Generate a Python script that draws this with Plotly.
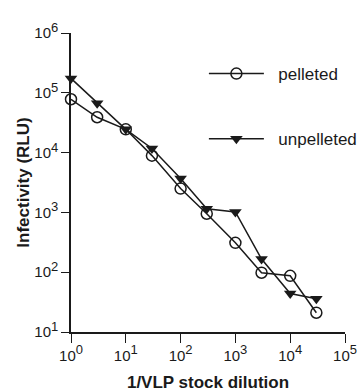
import plotly.graph_objects as go

dilution = [1, 3, 10, 30, 100, 300, 1000, 3000, 10000, 30000]
pelleted = [78000, 39000, 24500, 8900, 2500, 950, 310, 98, 87, 21]
unpelleted = [174000, 67000, 24500, 11700, 3700, 1150, 1020, 166, 44, 36]
series_names = ["pelleted", "unpelleted"]

x_ticks = [1, 10, 100, 1000, 10000, 100000]
x_ticktext = ["10<sup><span style='font-size:13px'>%d</span></sup>" % i for i in range(6)]
y_ticks = [10, 100, 1000, 10000, 100000, 1000000]
y_ticktext = ["10<sup><span style='font-size:13px'>%d</span></sup>" % i for i in range(1, 7)]

FONT = "Liberation Sans, Arial, Helvetica, sans-serif"
INK = "#1a1a1a"
PAD = "\u00a0\u00a0"

fig = go.Figure()
fig.add_trace(go.Scatter(
    x=dilution, y=pelleted, name=PAD + series_names[0], mode="lines+markers",
    line=dict(color=INK, width=1.5),
    marker=dict(symbol="circle-open", size=11, color=INK, line=dict(width=1.5, color=INK)),
    legendgroup="a", cliponaxis=False,
))
fig.add_trace(go.Scatter(
    x=dilution, y=unpelleted, name=PAD + series_names[1], mode="lines+markers",
    line=dict(color=INK, width=1.5),
    marker=dict(symbol="triangle-down", size=11, color=INK),
    legendgroup="b", cliponaxis=False,
))

fig.update_layout(
    width=363, height=392,
    margin=dict(l=71, r=18, t=33, b=60, autoexpand=False),
    plot_bgcolor="white", paper_bgcolor="white",
    font=dict(family=FONT, color=INK, size=15),
    showlegend=True,
    legend=dict(
        x=0.485, y=0.923, xanchor="left", yanchor="top",
        traceorder="grouped", tracegroupgap=40, itemwidth=55,
        font=dict(size=17, color=INK), bgcolor="rgba(0,0,0,0)",
    ),
    xaxis=dict(
        type="log", range=[0, 5], tickvals=x_ticks, ticktext=x_ticktext,
        showgrid=False, zeroline=False, showline=True, linecolor=INK, linewidth=1.5,
        ticks="outside", ticklen=9, tickwidth=1.2, tickcolor=INK,
        tickfont=dict(size=15, family=FONT), automargin=False,
        title=dict(text="<b>1/VLP stock dilution</b>", font=dict(size=17, family=FONT), standoff=15),
    ),
    yaxis=dict(
        type="log", range=[1, 6], tickvals=y_ticks, ticktext=y_ticktext,
        showgrid=False, zeroline=False, showline=True, linecolor=INK, linewidth=1.5,
        ticks="outside", ticklen=8, tickwidth=1.2, tickcolor=INK,
        tickfont=dict(size=15, family=FONT), automargin=False,
        title=dict(text="<b>Infectivity (RLU)</b>", font=dict(size=17, family=FONT), standoff=0),
    ),
)

fig.write_html(
    "out.html",
    config={"displayModeBar": False},
    post_script="document.body.style.margin='0';document.body.style.overflow='hidden';",
)
